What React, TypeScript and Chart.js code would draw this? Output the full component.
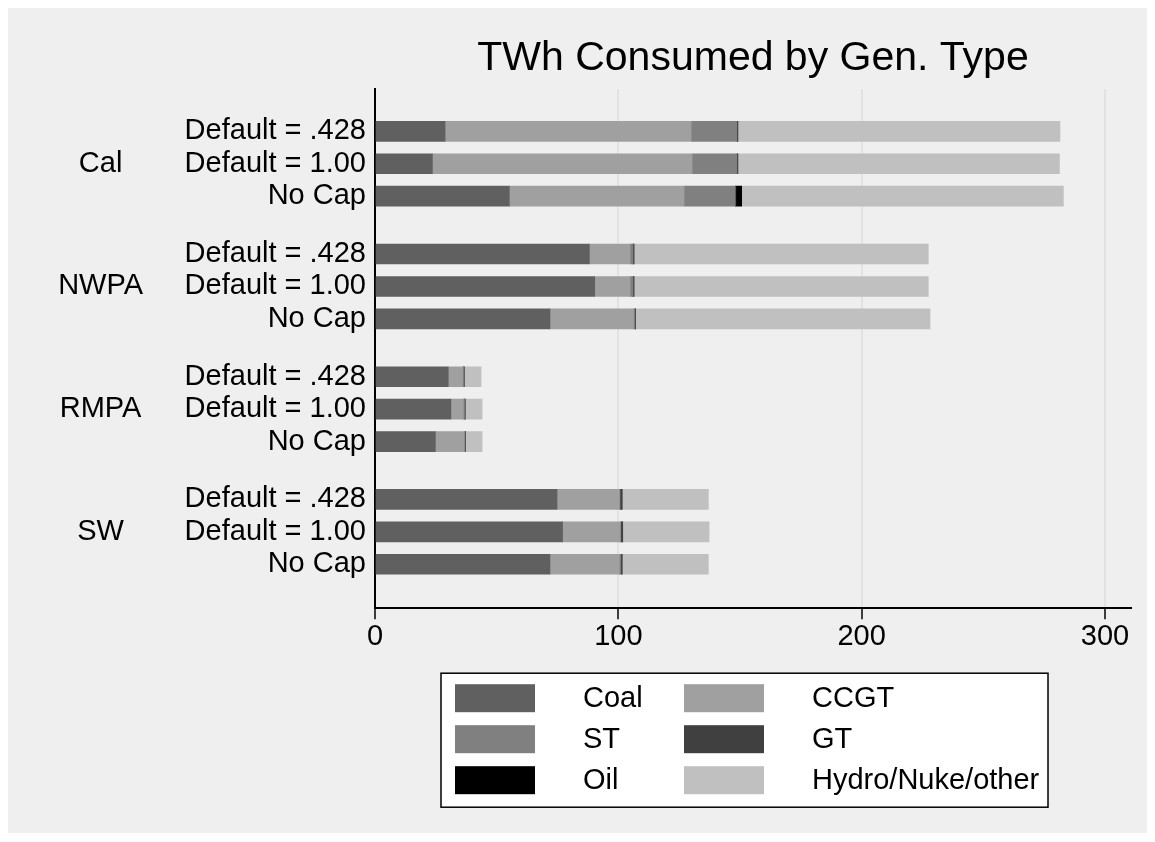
import React, { useEffect, useRef } from "react";
import { Chart, registerables } from "chart.js";

Chart.register(...registerables);

const groups = ["Cal", "NWPA", "RMPA", "SW"];
const scenarios = ["Default = .428", "Default = 1.00", "No Cap"];
const seriesNames = ["Coal", "CCGT", "ST", "GT", "Oil", "Hydro/Nuke/other"];
const seriesColors = ["#606060", "#a0a0a0", "#808080", "#404040", "#000000", "#c0c0c0"];

// bar order: Cal(.428, 1.00, NoCap), NWPA(...), RMPA(...), SW(...)
const coal = [28.8, 23.6, 55.2, 88.1, 90.3, 71.9, 30.1, 31.2, 24.8, 74.8, 77.1, 71.9];
const ccgt = [101.1, 106.7, 71.8, 16.7, 14.5, 34.3, 5.9, 5.1, 11.8, 25.6, 23.6, 28.5];
const st = [18.8, 18.4, 21.0, 1.2, 1.2, 0.6, 0.4, 0.5, 0.4, 0.3, 0.3, 0.6];
const gt = [0.4, 0.4, 0.3, 0.4, 0.4, 0.2, 0.2, 0.2, 0.2, 0.8, 0.8, 0.5];
const oil = [0, 0, 2.4, 0, 0, 0, 0, 0, 0, 0, 0, 0];
const hydro = [132.4, 132.2, 132.2, 121.0, 121.0, 121.1, 7.0, 7.0, 6.8, 35.5, 35.5, 35.5];

const xTicks = [0, 100, 200, 300];

const FONT = "'Liberation Sans', Arial, Helvetica, sans-serif";
const GROUP_STEP = 3.785;
const Y_MIN = -1.3;
const Y_MAX = 14.71;

const barPos: number[] = [];
const barLabels: string[] = [];
groups.forEach((g, gi) => {
  scenarios.forEach((s, si) => {
    barPos.push(gi * GROUP_STEP + si);
    barLabels.push(s);
  });
});
const groupPos = groups.map((g, gi) => gi * GROUP_STEP + 1);

const boxLegend = {
  id: "boxLegend",
  afterDraw(chart: any) {
    const { ctx, chartArea } = chart;
    const cx = (chartArea.left + chartArea.right) / 2;
    const w = 607;
    const h = 134;
    const left = cx - 312;
    const top = chartArea.bottom + 65;
    ctx.save();
    ctx.fillStyle = "#ffffff";
    ctx.fillRect(left, top, w, h);
    ctx.strokeStyle = "#000000";
    ctx.lineWidth = 1.5;
    ctx.strokeRect(left, top, w, h);
    ctx.font = `29px ${FONT}`;
    ctx.textBaseline = "middle";
    ctx.textAlign = "left";
    chart.data.datasets.forEach((ds: any, i: number) => {
      const col = i % 2;
      const row = Math.floor(i / 2);
      const rowY = top + 25 + row * 41;
      const sx = left + 14 + col * 229;
      ctx.fillStyle = ds.backgroundColor;
      ctx.fillRect(sx, rowY - 14, 80, 28);
      ctx.fillStyle = "#000000";
      ctx.fillText(ds.label, sx + 128, rowY + 1);
    });
    ctx.restore();
  },
};

export default function App() {
  const canvasRef = useRef<HTMLCanvasElement | null>(null);

  useEffect(() => {
    if (!canvasRef.current) return;
    const seriesData = [coal, ccgt, st, gt, oil, hydro];
    const chart = new Chart(canvasRef.current, {
      type: "bar",
      data: {
        datasets: seriesNames.map((name, i) => ({
          label: name,
          data: seriesData[i].map((v, k) => ({ x: v, y: barPos[k] })),
          backgroundColor: seriesColors[i],
          borderWidth: 0,
          barThickness: 20,
        })),
      },
      options: {
        indexAxis: "y",
        animation: false,
        responsive: true,
        maintainAspectRatio: false,
        layout: { padding: { left: 45, right: 16, top: 0, bottom: 179 } },
        plugins: {
          legend: { display: false },
          tooltip: { enabled: false },
          title: {
            display: true,
            text: "TWh Consumed by Gen. Type",
            fullSize: false,
            color: "#000000",
            font: { family: FONT, size: 41, weight: "normal" },
            padding: { top: 26, bottom: 6 },
          },
        },
        scales: {
          x: {
            type: "linear",
            stacked: true,
            min: 0,
            max: 310.7,
            offset: false,
            afterBuildTicks: (axis: any) => {
              axis.ticks = xTicks.map((v) => ({ value: v }));
            },
            grid: {
              color: "#e2e2e2",
              lineWidth: 2,
              tickColor: "#000000",
              tickLength: 11,
              tickWidth: 1.5,
            },
            border: { display: true, color: "#000000", width: 2 },
            ticks: {
              color: "#000000",
              font: { family: FONT, size: 29 },
              padding: 0,
              maxRotation: 0,
            },
          },
          y: {
            type: "linear",
            stacked: true,
            reverse: true,
            offset: false,
            min: Y_MIN,
            max: Y_MAX,
            weight: 0,
            afterBuildTicks: (axis: any) => {
              axis.ticks = barPos.map((v) => ({ value: v }));
            },
            afterFit: (axis: any) => {
              axis.width = 194;
            },
            grid: { display: true, drawOnChartArea: false, drawTicks: false, offset: false },
            border: { display: true, color: "#000000", width: 2 },
            ticks: {
              color: "#000000",
              font: { family: FONT, size: 29 },
              padding: 9,
              autoSkip: false,
              callback: (value: any) => {
                const idx = barPos.findIndex((p) => Math.abs(p - Number(value)) < 1e-6);
                return idx >= 0 ? barLabels[idx] : "";
              },
            },
          },
          y2: {
            type: "linear",
            position: "left",
            reverse: true,
            offset: false,
            min: Y_MIN,
            max: Y_MAX,
            weight: 1,
            afterBuildTicks: (axis: any) => {
              axis.ticks = groupPos.map((v) => ({ value: v }));
            },
            afterFit: (axis: any) => {
              axis.width = 128;
            },
            grid: { display: false, drawTicks: false, offset: false },
            border: { display: false },
            ticks: {
              color: "#000000",
              font: { family: FONT, size: 29 },
              padding: 38,
              crossAlign: "center",
              autoSkip: false,
              callback: (value: any) => {
                const idx = groupPos.findIndex((p) => Math.abs(p - Number(value)) < 1e-6);
                return idx >= 0 ? groups[idx] : "";
              },
            },
          },
        },
      },
      plugins: [boxLegend],
    } as any);
    return () => chart.destroy();
  }, []);

  return (
    <div style={{ width: 1139, height: 825, background: "#efefef", position: "relative" }}>
      <canvas ref={canvasRef} />
    </div>
  );
}
